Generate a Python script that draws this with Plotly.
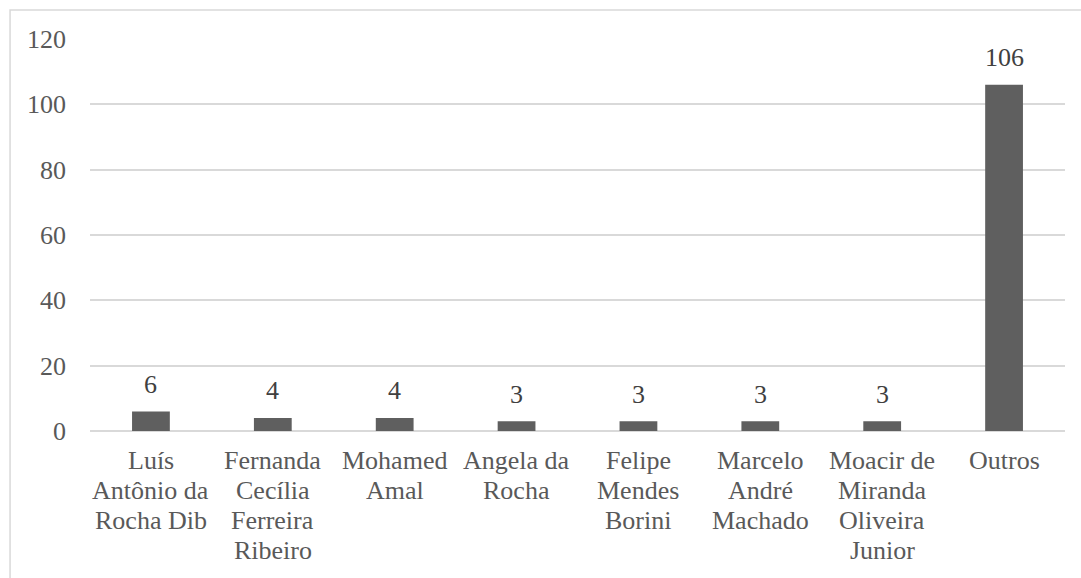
import plotly.graph_objects as go

categories = [
    "Luís Antônio da Rocha Dib",
    "Fernanda Cecília Ferreira Ribeiro",
    "Mohamed Amal",
    "Angela da Rocha",
    "Felipe Mendes Borini",
    "Marcelo André Machado",
    "Moacir de Miranda Oliveira Junior",
    "Outros",
]
label_lines = [
    ["Luís", "Antônio da", "Rocha Dib"],
    ["Fernanda", "Cecília", "Ferreira", "Ribeiro"],
    ["Mohamed", "Amal"],
    ["Angela da", "Rocha"],
    ["Felipe", "Mendes", "Borini"],
    ["Marcelo", "André", "Machado"],
    ["Moacir de", "Miranda", "Oliveira", "Junior"],
    ["Outros"],
]
values = [6, 4, 4, 3, 3, 3, 3, 106]
y_ticks = [0, 20, 40, 60, 80, 100, 120]

FONT = "Liberation Serif"
TXT = "#595959"

fig = go.Figure(
    go.Bar(
        x=categories,
        y=values,
        marker=dict(color="#5f5f5f", line=dict(width=0)),
        width=0.31,
        hoverinfo="skip",
    )
)

fig.update_layout(
    width=1081,
    height=578,
    margin=dict(l=90, r=16, t=39, b=147),
    paper_bgcolor="white",
    plot_bgcolor="white",
    showlegend=False,
    font=dict(family=FONT, size=26, color=TXT),
)

fig.update_xaxes(
    showgrid=False,
    showline=False,
    ticks="",
    showticklabels=False,
)
fig.update_yaxes(
    range=[0, 120],
    tickvals=y_ticks,
    showgrid=True,
    gridcolor="#d9d9d9",
    gridwidth=1.5,
    zeroline=True,
    zerolinecolor="#d9d9d9",
    zerolinewidth=1.5,
    showline=False,
    ticks="",
    tickfont=dict(family=FONT, size=26, color=TXT),
    ticklabelstandoff=23,
)

# value labels above bars
for cat, v in zip(categories, values):
    fig.add_annotation(
        x=cat,
        xref="x",
        y=v,
        yref="y",
        text=str(v),
        showarrow=False,
        xanchor="center",
        yanchor="middle",
        yshift=27,
        font=dict(family=FONT, size=26, color="#404040"),
    )

# category labels, one annotation per line
for cat, lines in zip(categories, label_lines):
    for i, line in enumerate(lines):
        fig.add_annotation(
            x=cat,
            xref="x",
            y=0,
            yref="y",
            text=line,
            showarrow=False,
            xanchor="center",
            yanchor="middle",
            yshift=-(29 + 30.3 * i),
            font=dict(family=FONT, size=26, color=TXT),
        )

fig.add_shape(
    type="rect",
    xref="paper",
    yref="paper",
    x0=-0.082,
    x1=1.05,
    y0=-0.5,
    y1=1.074,
    line=dict(color="#d9d9d9", width=1.5),
    fillcolor="rgba(0,0,0,0)",
    layer="below",
)

fig.write_html(
    "out.html",
    config={"displayModeBar": False},
    post_script="document.body.style.margin='0';",
)
